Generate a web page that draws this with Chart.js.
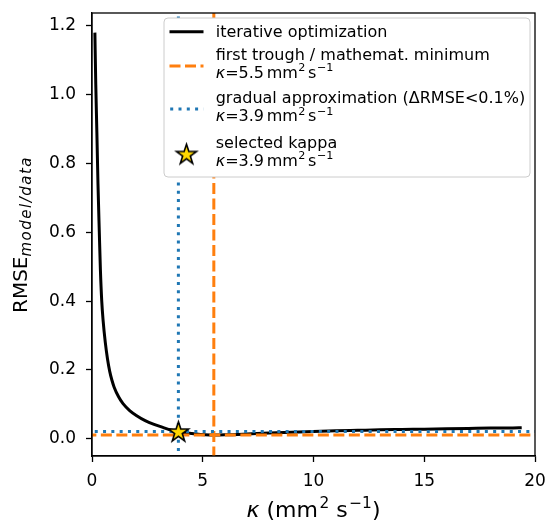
<!DOCTYPE html>
<html>
<head>
<meta charset="utf-8">
<script src="https://cdn.jsdelivr.net/npm/chart.js@4.4.1/dist/chart.umd.min.js"></script>
<style>
  html, body { margin: 0; padding: 0; background: #fff; }
  #wrap { width: 546px; height: 523px; }
</style>
</head>
<body>
<div id="wrap"><canvas id="rmseChart" width="546" height="523"></canvas></div>
<script>
// kappa (mm2 s-1) vs RMSE of the iterative optimization
const kappa = [0.13, 0.17, 0.22, 0.27, 0.33, 0.38, 0.44, 0.5, 0.6, 0.7, 0.8, 0.9, 1.0, 1.2, 1.4, 1.7, 2.0, 2.4, 2.8, 3.2, 3.6, 3.9,
               4.3, 4.7, 5.1, 5.5, 6.0, 7, 8, 9, 10, 11, 12, 13, 14, 15, 16, 17, 18, 19, 19.4];
const rmse = [1.18, 1.03, 0.89, 0.74, 0.60, 0.49, 0.40, 0.345, 0.28, 0.232, 0.196, 0.17, 0.15, 0.122, 0.102, 0.082, 0.068, 0.053, 0.042, 0.033, 0.025, 0.021,
              0.017, 0.014, 0.012, 0.011, 0.0115, 0.014, 0.017, 0.019, 0.021, 0.023, 0.0245, 0.026, 0.027, 0.028, 0.029, 0.030, 0.031, 0.0315, 0.032];

const troughKappa = 5.5, troughRmse = 0.011;
const gradualKappa = 3.9, gradualRmse = 0.021;
const selectedKappa = 3.9, selectedRmse = 0.021;

const xTicks = [0, 5, 10, 15, 20];
const yTicks = [0.0, 0.2, 0.4, 0.6, 0.8, 1.0, 1.2];

const ORANGE = '#ff7f0e', BLUE = '#1f77b4';
const FONT = '"DejaVu Sans", sans-serif';
const ORANGE_DASH = [11, 4.5], BLUE_DOT = [3, 5.3];

Chart.defaults.font.family = FONT;
Chart.defaults.color = '#000';

// filled star marker
function starCanvas(r) {
    const size = Math.ceil(r * 2 + 4);
    const c = document.createElement('canvas');
    c.width = size; c.height = size;
    const g = c.getContext('2d');
    g.translate(size / 2, size / 2 + 0.8);
    g.beginPath();
    for (let i = 0; i < 10; i++) {
        const rad = i % 2 === 0 ? r : r * 0.382;
        const a = -Math.PI / 2 + i * Math.PI / 5;
        g.lineTo(rad * Math.cos(a), rad * Math.sin(a));
    }
    g.closePath();
    g.fillStyle = '#ffd700';
    g.fill();
    g.lineWidth = 1.6;
    g.lineJoin = 'miter';
    g.strokeStyle = '#000';
    g.stroke();
    return c;
}
const star = starCanvas(10.5);

function setFont(ctx, p) {
    ctx.font = (p.it ? 'italic ' : '') + p.s + 'px ' + FONT;
    ctx.letterSpacing = (p.ls || 0) + 'px';
}
function drawRich(ctx, parts, x, y) {
    for (const p of parts) {
        x += p.pre || 0;
        setFont(ctx, p);
        ctx.fillText(p.t, x, y + (p.dy || 0));
        x += ctx.measureText(p.t).width;
    }
    ctx.letterSpacing = '0px';
    return x;
}
function richWidth(ctx, parts) {
    let w = 0;
    for (const p of parts) {
        setFont(ctx, p);
        w += (p.pre || 0) + ctx.measureText(p.t).width;
    }
    ctx.letterSpacing = '0px';
    return w;
}
function kappaText(v, s) {
    return [
        {t: 'κ', it: true, s: s},
        {t: '=' + v, s: s},
        {t: 'mm', s: s, pre: s / 6},
        {t: '2', s: s * 0.7, dy: -s * 0.4, pre: 0.5},
        {t: 's', s: s, pre: s / 6},
        {t: '−1', s: s * 0.7, dy: -s * 0.4, pre: 0.5}
    ];
}

const extras = {
    id: 'extras',
    afterDatasetsDraw(chart) {
        const {ctx, chartArea: a} = chart;
        ctx.save();
        ctx.strokeStyle = '#000';
        ctx.lineWidth = 1.3;
        ctx.strokeRect(a.left, a.top, a.right - a.left, a.bottom - a.top);
        ctx.restore();
    },
    afterDraw(chart) {
        const {ctx, chartArea: a} = chart;
        ctx.save();
        ctx.fillStyle = '#000';
        ctx.textBaseline = 'alphabetic';

        // legend box
        const bx = 164, by = 18, bw = 366, bh = 159;
        ctx.beginPath();
        ctx.roundRect(bx, by, bw, bh, 4);
        ctx.fillStyle = '#fff';
        ctx.fill();
        ctx.strokeStyle = '#cccccc';
        ctx.lineWidth = 1;
        ctx.stroke();

        const hx0 = 169.5, hx1 = 203.5, tx = 215.7, fs = 16;
        ctx.lineWidth = 3;
        ctx.strokeStyle = '#000';
        ctx.beginPath(); ctx.moveTo(hx0, 31.7); ctx.lineTo(hx1, 31.7); ctx.stroke();
        ctx.setLineDash(ORANGE_DASH);
        ctx.strokeStyle = ORANGE;
        ctx.beginPath(); ctx.moveTo(hx0, 66); ctx.lineTo(hx1, 66); ctx.stroke();
        ctx.setLineDash(BLUE_DOT);
        ctx.strokeStyle = BLUE;
        ctx.beginPath(); ctx.moveTo(hx0 + 0.7, 109); ctx.lineTo(hx1, 109); ctx.stroke();
        ctx.setLineDash([]);
        ctx.drawImage(star, 186.5 - star.width / 2, 154 - star.height / 2);

        ctx.fillStyle = '#000';
        drawRich(ctx, [{t: 'iterative optimization', s: fs}], tx, 36.7);
        drawRich(ctx, [{t: 'first trough / mathemat. minimum', s: fs}], tx, 59.5);
        drawRich(ctx, kappaText('5.5', fs), tx, 77.5);
        drawRich(ctx, [{t: 'gradual approximation (ΔRMSE<0.1%)', s: fs}], tx, 103);
        drawRich(ctx, kappaText('3.9', fs), tx, 121);
        drawRich(ctx, [{t: 'selected kappa', s: fs}], tx, 147.5);
        drawRich(ctx, kappaText('3.9', fs), tx, 165.5);

        // x axis title
        const ts = 22;
        const xt = [
            {t: 'κ', it: true, s: ts},
            {t: ' (mm', s: ts},
            {t: '2', s: ts * 0.7, dy: -ts * 0.4, pre: 1.5},
            {t: ' s', s: ts},
            {t: '−1', s: ts * 0.7, dy: -ts * 0.4, pre: 1.5},
            {t: ')', s: ts}
        ];
        const xc = (a.left + a.right) / 2;
        drawRich(ctx, xt, xc - richWidth(ctx, xt) / 2, 517);

        // y axis title
        const ys = 20;
        const yt = [
            {t: 'RMSE', s: ys},
            {t: 'model/data', s: 15, it: true, ls: 1.5, dy: ys * 0.22}
        ];
        ctx.translate(26.7, (a.top + a.bottom) / 2);
        ctx.rotate(-Math.PI / 2);
        drawRich(ctx, yt, -richWidth(ctx, yt) / 2, 0);
        ctx.restore();
    }
};

function noPad(s) {
    s.paddingLeft = 0; s.paddingRight = 0; s.paddingTop = 0; s.paddingBottom = 0;
}

new Chart(document.getElementById('rmseChart'), {
    type: 'scatter',
    data: {
        datasets: [
            {
                label: 'selected kappa',
                data: [{x: selectedKappa, y: selectedRmse}],
                pointStyle: star,
                pointRadius: 10,
                clip: false,
                order: 0
            },
            {
                label: 'gradual approximation',
                data: [{x: gradualKappa, y: -1}, {x: gradualKappa, y: 2}],
                showLine: true, pointRadius: 0,
                borderColor: BLUE, borderWidth: 3, borderDash: BLUE_DOT,
                clip: 0, order: 1
            },
            {
                label: 'gradual approximation h',
                data: [{x: -1, y: gradualRmse}, {x: 21, y: gradualRmse}],
                showLine: true, pointRadius: 0,
                borderColor: BLUE, borderWidth: 3, borderDash: BLUE_DOT,
                clip: 0, order: 1
            },
            {
                label: 'first trough',
                data: [{x: troughKappa, y: -1}, {x: troughKappa, y: 2}],
                showLine: true, pointRadius: 0,
                borderColor: ORANGE, borderWidth: 3, borderDash: ORANGE_DASH,
                clip: 0, order: 2
            },
            {
                label: 'first trough h',
                data: [{x: -1, y: troughRmse}, {x: 21, y: troughRmse}],
                showLine: true, pointRadius: 0,
                borderColor: ORANGE, borderWidth: 3, borderDash: ORANGE_DASH,
                clip: 0, order: 2
            },
            {
                label: 'iterative optimization',
                data: kappa.map((k, i) => ({x: k, y: rmse[i]})),
                showLine: true, pointRadius: 0,
                borderColor: '#000', borderWidth: 3,
                cubicInterpolationMode: 'monotone',
                order: 3
            }
        ]
    },
    options: {
        responsive: false,
        animation: false,
        devicePixelRatio: 1,
        layout: {padding: {top: 13, right: 10, left: 0, bottom: 0}},
        plugins: {legend: {display: false}, tooltip: {enabled: false}},
        scales: {
            x: {
                type: 'linear', min: 0, max: 20,
                afterBuildTicks: s => { s.ticks = xTicks.map(v => ({value: v})); },
                afterFit: s => { s.height = 67; noPad(s); },
                ticks: {font: {size: 17}, color: '#000', padding: 9, maxRotation: 0, callback: v => String(v)},
                grid: {drawOnChartArea: false, drawTicks: true, tickLength: 6, tickColor: '#000', tickWidth: 1.3},
                border: {color: '#000', width: 1.3}
            },
            y: {
                type: 'linear', min: -0.05, max: 1.237,
                afterBuildTicks: s => { s.ticks = yTicks.map(v => ({value: v})); },
                afterFit: s => { s.width = 92; noPad(s); },
                ticks: {font: {size: 17}, color: '#000', padding: 10, callback: v => v.toFixed(1)},
                grid: {drawOnChartArea: false, drawTicks: true, tickLength: 6, tickColor: '#000', tickWidth: 1.3},
                border: {color: '#000', width: 1.3}
            }
        }
    },
    plugins: [extras]
});
</script>
</body>
</html>
